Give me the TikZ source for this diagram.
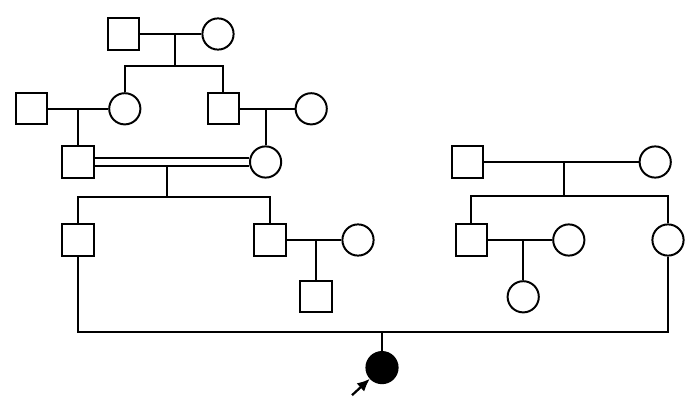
\documentclass[tikz,border=0pt]{standalone}
\usepackage{tikz}
\usetikzlibrary{calc,positioning,arrows,arrows.meta}

\begin{document}
\begin{tikzpicture}[line width=1.4pt,
		male/.style={draw, rectangle, minimum size=0.78cm, inner sep=0pt},
		female/.style={draw, circle, minimum size=0.78cm, inner sep=0pt},
		affected/.style={female, fill=black}]
			\useasboundingbox (0,0) rectangle (17.5,-10);
			% generation I
			\node[male] at (3.08,-0.85) (I1) {};
			\node[female] at (5.45,-0.85) (I2) {};
			% generation II
			\node[male] at (0.78,-2.72) (II1) {};
			\node[female] at (3.12,-2.72) (II2) {};
			\node[male] at (5.58,-2.72) (II3) {};
			\node[female] at (7.78,-2.72) (II4) {};
			% generation III
			\node[male] at (1.95,-4.05) (III1) {};
			\node[female] at (6.64,-4.05) (III2) {};
			\node[male] at (11.68,-4.05) (III3) {};
			\node[female] at (16.38,-4.05) (III4) {};
			% generation IV
			\node[male] at (1.95,-6.0) (IV1) {};
			\node[male] at (6.75,-6.0) (IV2) {};
			\node[female] at (8.95,-6.0) (IV3) {};
			\node[male] at (11.78,-6.0) (IV4) {};
			\node[female] at (14.22,-6.0) (IV5) {};
			\node[female] at (16.7,-6.0) (IV6) {};
			\node[male] at (7.9,-7.42) (V1) {};
			\node[female] at (13.08,-7.42) (V2) {};
			% proband
			\node[affected] at (9.55,-9.19) (P) {};
			\coordinate (m1) at (4.38,-0.85);
			\coordinate (s1) at (4.38,-1.65);
			\coordinate (m2) at (1.95,-2.72);
			\coordinate (m3) at (6.64,-2.72);
			\coordinate (m4) at (4.18,-4.16);
			\coordinate (s4) at (4.18,-4.92);
			\coordinate (m5) at (14.1,-4.05);
			\coordinate (s5) at (14.1,-4.9);
			\coordinate (m6) at (7.9,-6.0);
			\coordinate (m7) at (13.08,-6.0);
			\coordinate (m8) at (9.55,-8.3);
			\coordinate (arr) at (8.8,-9.88);
			\draw (I1) -- (I2);
			\draw (m1) -- (s1);
			\draw (II2) |- (s1) -| (II3);
			\draw (II1) -- (II2);
			\draw (m2) -- (III1);
			\draw (II3) -- (II4);
			\draw (m3) -- (III2);
			\draw[double, double distance=4.5pt] (III1) -- (III2);
			\draw (m4) -- (s4);
			\draw (IV1) |- (s4) -| (IV2);
			\draw (III3) -- (III4);
			\draw (m5) -- (s5);
			\draw (IV4) |- (s5) -| (IV6);
			\draw (IV2) -- (IV3);
			\draw (m6) -- (V1);
			\draw (IV4) -- (IV5);
			\draw (m7) -- (V2);
			\draw (IV1) |- (m8) -| (IV6);
			\draw (m8) -- (P);
			\draw[-{Latex[length=9pt,width=8pt]}, line width=1.6pt] (arr) -- (P);
		\end{tikzpicture}
\end{document}
